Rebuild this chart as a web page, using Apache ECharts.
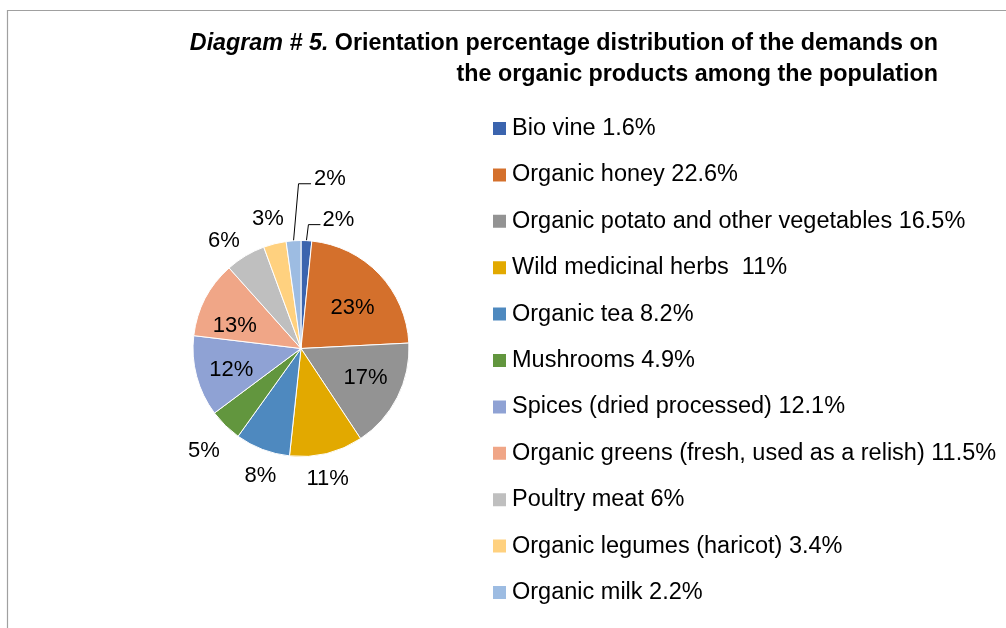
<!DOCTYPE html>
<html>
<head>
<meta charset="utf-8">
<script src="https://cdn.jsdelivr.net/npm/echarts@6/dist/echarts.min.js"></script>
<style>
html,body{margin:0;padding:0;background:#fff;}
#chart{width:1006px;height:628px;}
</style>
</head>
<body>
<div id="chart"></div>
<script>
// ---- data ----
const categories = [
  'Bio vine',
  'Organic honey',
  'Organic potato and other vegetables',
  'Wild medicinal herbs ',
  'Organic tea',
  'Mushrooms',
  'Spices (dried processed)',
  'Organic greens (fresh, used as a relish)',
  'Poultry meat',
  'Organic legumes (haricot)',
  'Organic milk'
];
const values = [1.6, 22.6, 16.5, 11, 8.2, 4.9, 12.1, 11.5, 6, 3.4, 2.2];
const sliceLabels = ['2%', '23%', '17%', '11%', '8%', '5%', '12%', '13%', '6%', '3%', '2%'];
const colors = ['#3b64ae', '#d4702c', '#939393', '#e2a900', '#4e89bf', '#62963e',
                '#8fa2d4', '#f0a687', '#bfbfbf', '#ffd17f', '#9dbce2'];
const titleLine1 = 'Orientation percentage distribution of the demands on';
const titleLine2 = 'the organic products among the population';
const titlePrefix = 'Diagram # 5.';

// ---- layout / style config ----
const FONT = "'Liberation Sans', Arial, sans-serif";
const CX = 301, CY = 348.5, R = 108;
const labelMode = ['line', 'in', 'in', 'out', 'out', 'out', 'in', 'in', 'out', 'out', 'line'];
const leader = { 0: [2, -16, 12], 10: [5, -57, 12.5] };
const IN_DIST = 69, OUT_GAP = 8;
// small per-label nudges (px) to follow the reference's best-fit placement
const nudge = { 1: [1.5, 7], 2: [3, -2], 3: [-5, 1], 4: [7, 2], 5: [-1.5, 5.5],
                6: [-3, 3.5], 7: [-5, 9.5], 8: [-7.5, 8.5], 9: [-1, -1], 0: [0, 2], 10: [1, 2] };

const total = values.reduce((a, b) => a + b, 0);
const mids = [];
(function () {
  let acc = 0;
  values.forEach(v => { mids.push((acc + v / 2) / total * Math.PI * 2); acc += v; });
})();

const data = categories.map((n, i) => ({
  name: n,
  value: values[i],
  itemStyle: { color: colors[i] },
  label: { position: labelMode[i] === 'in' ? 'inside' : 'outside' },
  labelLine: { show: labelMode[i] === 'line' }
}));

const chart = echarts.init(document.getElementById('chart'), null, { renderer: 'canvas' });
chart.setOption({
  backgroundColor: '#fff',
  animation: false,
  graphic: [{
    type: 'polyline',
    silent: true,
    shape: { points: [[7.5, 700], [7.5, 10.5], [1100, 10.5]] },
    style: { stroke: '#a0a0a0', lineWidth: 1.2, fill: null }
  }],
  title: {
    text: '{i|' + titlePrefix + '} ' + titleLine1 + '\n' + titleLine2,
    left: 938,
    top: 28,
    padding: 0,
    textAlign: 'right',
    textStyle: {
      fontFamily: FONT, fontWeight: 'bold', fontSize: 23.3, color: '#000', lineHeight: 31,
      rich: { i: { fontFamily: FONT, fontWeight: 'bold', fontStyle: 'italic', fontSize: 23.3, color: '#000', lineHeight: 31 } }
    }
  },
  legend: {
    orient: 'vertical',
    left: 491,
    top: 116.5,
    padding: 0,
    icon: 'rect',
    itemWidth: 15,
    itemHeight: 15,
    itemGap: 22.4,
    data: categories,
    formatter: name => name + ' ' + values[categories.indexOf(name)] + '%',
    textStyle: { fontFamily: FONT, fontSize: 23.5, color: '#000', lineHeight: 24 }
  },
  series: [{
    type: 'pie',
    center: [CX, CY],
    radius: R,
    startAngle: 90,
    clockwise: true,
    avoidLabelOverlap: false,
    silent: true,
    itemStyle: { borderColor: '#fff', borderWidth: 1 },
    label: {
      show: true,
      fontFamily: FONT,
      fontSize: 22,
      color: '#000',
      formatter: p => sliceLabels[p.dataIndex]
    },
    labelLine: { length: 10, length2: 10, lineStyle: { color: '#000', width: 1 } },
    labelLayout: function (params) {
      const i = params.dataIndex;
      const a = mids[i];
      const s = Math.sin(a), c = Math.cos(a);
      const mode = labelMode[i];
      const nd = nudge[i] || [0, 0];
      if (mode === 'in') {
        return { x: CX + IN_DIST * s + nd[0], y: CY - IN_DIST * c + nd[1], align: 'center', verticalAlign: 'middle' };
      }
      if (mode === 'out') {
        const w = params.labelRect.width, h = 26;
        const d = R + OUT_GAP + Math.abs(w / 2 * s) + Math.abs(h / 2 * c);
        return { x: CX + d * s + nd[0], y: CY - d * c + nd[1], align: 'center', verticalAlign: 'middle' };
      }
      const off = leader[i];
      const p0 = [CX + R * s, CY - R * c];
      const p1 = [p0[0] + off[0], p0[1] + off[1]];
      const p2 = [p1[0] + off[2], p1[1]];
      return {
        x: p2[0] + 2 + nd[0], y: p2[1] - 7 + nd[1], align: 'left', verticalAlign: 'middle',
        labelLinePoints: [p0, p1, p2]
      };
    },
    data: data
  }]
});
</script>
</body>
</html>
